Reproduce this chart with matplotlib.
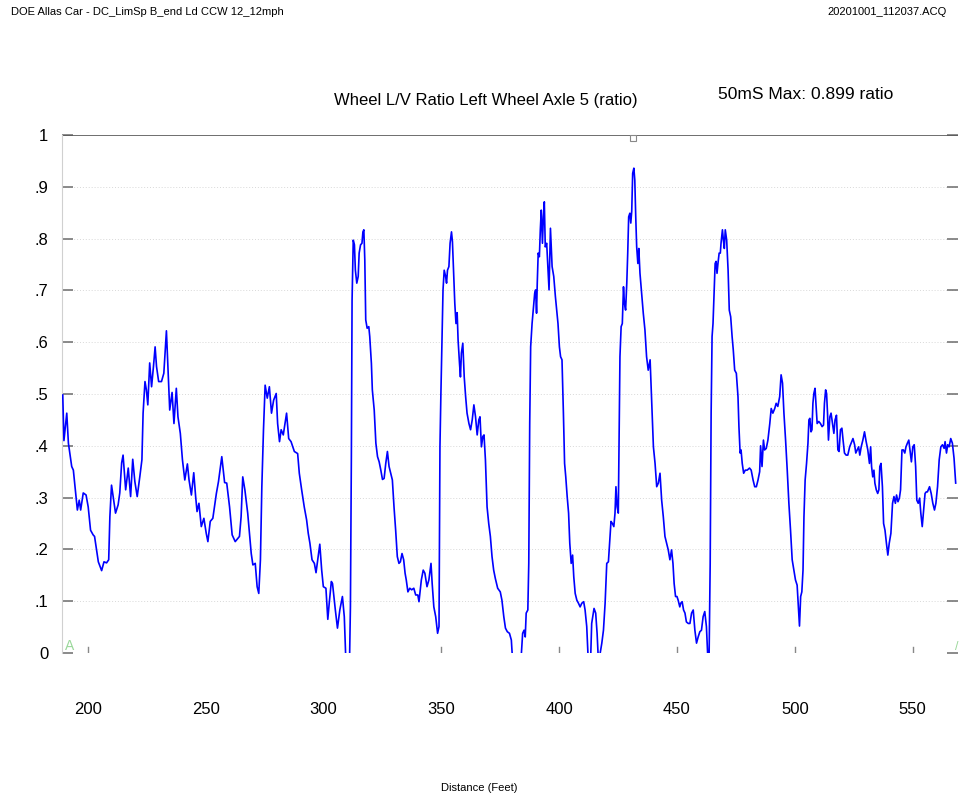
import matplotlib.pyplot as plt

plt.rcParams['font.family'] = ['Liberation Sans', 'DejaVu Sans']

# distance along track (ft) and L/V ratio, left wheel axle 5
distance = [
    189.3, 189.8, 191.0, 191.7, 193.1, 193.8, 195.5, 196.3, 196.9, 198.0,
    199.2, 200.1, 201.1, 202.2, 202.8, 204.4, 205.8, 206.8, 207.9, 208.8,
    209.3, 210.0, 210.7, 211.7, 212.8, 213.5, 214.3, 214.9, 216.0, 217.1,
    218.1, 219.0, 219.9, 220.9, 222.0, 222.9, 223.4, 224.2, 224.8, 225.4,
    226.2, 227.0, 227.8, 228.5, 229.1, 230.0, 231.2, 232.2, 233.3, 234.2,
    234.7, 235.7, 236.5, 237.5, 238.2, 239.2, 240.1, 241.1, 242.2, 242.9,
    243.9, 244.9, 245.7, 246.3, 247.1, 248.1, 249.2, 250.2, 250.9, 251.9,
    253.0, 254.5, 255.4, 256.8, 258.0, 258.9, 260.1, 261.2, 262.5, 264.3,
    265.0, 265.7, 266.6, 267.8, 269.3, 270.0, 271.0, 271.8, 272.5, 273.2,
    273.8, 274.5, 275.2, 276.1, 277.0, 277.9, 278.8, 279.9, 280.5, 281.3,
    282.0, 282.9, 284.3, 285.2, 286.2, 287.6, 289.0, 289.7, 290.7, 291.8,
    292.8, 293.5, 294.2, 295.1, 296.1, 296.8, 297.8, 298.4, 299.2, 299.9,
    301.0, 301.8, 302.4, 303.3, 303.8, 305.0, 305.9, 306.9, 308.0, 308.8,
    309.5, 311.0, 311.4, 311.8, 312.1, 312.6, 313.1, 313.5, 314.1, 314.7,
    315.1, 315.7, 316.3, 316.7, 317.1, 317.5, 317.9, 318.5, 319.2, 319.6,
    320.3, 320.7, 321.5, 322.2, 322.9, 323.6, 324.3, 325.0, 325.7, 326.4,
    327.1, 327.8, 328.5, 329.2, 329.9, 330.6, 331.3, 332.0, 332.6, 333.3,
    334.0, 334.6, 335.1, 335.8, 336.6, 337.4, 338.3, 339.1, 340.0, 340.5,
    341.5, 342.3, 343.0, 343.9, 344.7, 345.6, 346.1, 346.8, 347.6, 348.4,
    349.0, 349.4, 349.8, 350.7, 351.2, 351.8, 352.2, 352.6, 353.2, 353.7,
    354.3, 354.7, 355.3, 355.7, 356.2, 356.7, 357.1, 357.7, 358.1, 358.5,
    359.1, 359.7, 360.3, 360.9, 361.7, 362.4, 363.1, 363.8, 364.5, 365.2,
    365.9, 366.4, 367.0, 367.6, 368.1, 368.7, 369.4, 370.1, 370.8, 371.5,
    372.2, 372.9, 373.9, 375.0, 375.7, 376.5, 377.2, 378.0, 378.9, 379.7,
    380.3, 383.7, 384.5, 385.1, 385.6, 386.0, 386.7, 387.1, 387.5, 387.9,
    388.5, 389.0, 389.6, 390.0, 390.4, 390.7, 391.1, 391.6, 392.0, 392.4,
    392.9, 393.3, 393.7, 394.1, 394.7, 395.7, 396.3, 397.0, 397.7, 398.4,
    399.5, 400.1, 400.6, 401.2, 401.8, 402.3, 402.8, 403.4, 404.0, 404.5,
    405.1, 405.7, 406.2, 406.8, 407.5, 408.2, 408.9, 409.6, 410.4, 411.0,
    411.7, 412.4, 413.3, 413.8, 414.8, 415.5, 416.1, 416.7, 418.1, 418.8,
    419.5, 420.2, 420.9, 421.5, 422.0, 422.6, 423.2, 423.7, 424.1, 424.6,
    425.1, 425.4, 425.8, 426.3, 426.8, 427.3, 427.7, 428.2, 428.7, 429.1,
    429.5, 430.0, 430.4, 430.8, 431.2, 431.7, 432.1, 432.5, 432.9, 433.4,
    433.8, 434.3, 435.0, 435.7, 436.4, 437.1, 437.8, 438.6, 439.2, 440.0,
    440.7, 441.4, 442.1, 442.8, 443.5, 444.2, 444.9, 445.6, 446.3, 447.0,
    447.7, 448.3, 448.8, 449.4, 450.0, 450.5, 451.2, 451.6, 452.2, 452.8,
    453.4, 454.0, 454.8, 455.5, 456.2, 456.9, 457.6, 458.3, 459.0, 459.7,
    460.4, 461.1, 461.8, 462.5, 463.2, 463.6, 464.1, 464.5, 464.9, 465.3,
    465.8, 466.2, 466.6, 467.0, 467.4, 467.9, 468.4, 468.7, 469.3, 469.7,
    470.1, 470.5, 471.1, 471.7, 472.2, 472.8, 473.4, 473.9, 474.5, 475.2,
    475.9, 476.3, 476.8, 477.2, 477.7, 478.3, 479.0, 479.8, 480.8, 481.5,
    482.3, 483.0, 483.7, 484.4, 485.1, 485.5, 486.1, 486.7, 487.2, 487.9,
    488.6, 489.4, 490.0, 490.7, 491.5, 492.1, 492.8, 493.6, 494.2, 494.8,
    495.4, 496.1, 496.8, 497.5, 498.2, 498.9, 499.6, 500.3, 501.0, 501.6,
    502.0, 502.5, 503.0, 503.5, 503.9, 504.4, 505.0, 505.6, 506.0, 506.4,
    506.9, 507.3, 507.7, 508.1, 508.6, 509.0, 509.5, 510.2, 510.9, 511.6,
    512.2, 512.6, 513.1, 513.5, 513.9, 514.3, 514.9, 515.4, 516.0, 516.6,
    517.1, 517.7, 518.3, 518.8, 519.4, 520.0, 520.5, 521.1, 521.8, 522.5,
    523.3, 523.9, 524.7, 525.4, 525.9, 526.5, 527.1, 527.6, 528.2, 528.9,
    529.6, 530.3, 531.0, 531.7, 532.2, 532.6, 533.1, 533.6, 534.0, 534.6,
    535.2, 535.7, 536.1, 536.6, 537.2, 537.7, 538.3, 538.9, 539.5, 540.1,
    540.8, 541.5, 542.1, 542.7, 543.2, 543.8, 544.4, 544.9, 545.5, 546.1,
    546.7, 547.2, 547.8, 548.4, 548.9, 549.5, 550.1, 550.7, 551.3, 551.8,
    552.4, 553.0, 553.5, 554.1, 554.7, 555.3, 555.8, 556.3, 557.2, 557.9,
    558.6, 559.3, 559.9, 560.6, 561.3, 562.0, 562.7, 563.4, 563.8, 564.4,
    564.9, 565.5, 566.2, 566.9, 567.6, 568.3,
]
lv_ratio = [
    .498, .410, .463, .405, .360, .353, .276, .295, .276, .309,
    .305, .282, .237, .228, .225, .176, .159, .176, .174, .180,
    .263, .324, .302, .270, .286, .309, .367, .382, .315, .357,
    .302, .374, .331, .302, .340, .373, .463, .524, .508, .479,
    .560, .514, .553, .591, .553, .524, .524, .540, .622, .521,
    .469, .503, .443, .511, .456, .424, .373, .334, .365, .334,
    .305, .348, .302, .273, .289, .244, .260, .231, .215, .254,
    .260, .308, .331, .379, .329, .328, .282, .228, .215, .225,
    .263, .340, .315, .270, .192, .170, .173, .128, .115, .180,
    .321, .431, .517, .492, .514, .463, .488, .501, .443, .408,
    .431, .421, .463, .414, .408, .389, .385, .347, .315, .282,
    .257, .231, .212, .180, .173, .155, .190, .210, .160, .128,
    .125, .065, .096, .138, .134, .083, .048, .083, .109, .070,
    -.02, -.02, .089, .379, .681, .797, .788, .739, .714, .727,
    .772, .788, .791, .813, .817, .759, .643, .627, .630, .611,
    .559, .508, .469, .405, .379, .369, .353, .335, .337, .366,
    .389, .360, .347, .334, .282, .237, .186, .173, .176, .192,
    .180, .154, .141, .118, .125, .122, .125, .112, .112, .099,
    .141, .160, .154, .128, .141, .173, .134, .089, .070, .038,
    .051, .398, .500, .701, .739, .727, .714, .739, .746, .791,
    .813, .794, .720, .675, .636, .657, .604, .559, .533, .579,
    .598, .533, .495, .463, .443, .431, .450, .479, .456, .421,
    .450, .456, .398, .418, .421, .373, .282, .250, .225, .186,
    .160, .144, .125, .118, .102, .070, .048, .041, .038, .025,
    -.02, -.02, .038, .044, .031, .077, .083, .173, .443, .591,
    .636, .662, .694, .701, .656, .714, .772, .765, .817, .855,
    .791, .842, .871, .784, .791, .701, .820, .746, .727, .688,
    .636, .591, .572, .566, .463, .366, .340, .302, .270, .212,
    .173, .189, .147, .115, .102, .096, .089, .096, .099, .083,
    .051, -.02, -.02, .057, .086, .077, .038, -.02, .019, .044,
    .096, .173, .176, .218, .254, .250, .244, .270, .321, .282,
    .270, .392, .572, .630, .636, .707, .675, .662, .714, .772,
    .842, .849, .830, .853, .926, .936, .913, .842, .784, .752,
    .781, .733, .694, .656, .624, .572, .546, .566, .495, .398,
    .366, .321, .328, .347, .295, .263, .225, .212, .199, .180,
    .199, .173, .134, .109, .109, .102, .089, .096, .099, .083,
    .077, .060, .057, .057, .077, .083, .044, .019, .031, .041,
    .044, .070, .080, .051, -.02, -.02, .173, .463, .611, .636,
    .701, .752, .756, .733, .752, .772, .772, .791, .817, .797,
    .781, .817, .797, .739, .662, .649, .611, .585, .546, .540,
    .495, .437, .386, .392, .366, .347, .353, .353, .357, .353,
    .334, .321, .321, .334, .350, .400, .360, .411, .392, .395,
    .411, .443, .472, .463, .472, .482, .476, .495, .537, .521,
    .463, .411, .353, .289, .237, .180, .160, .141, .131, .083,
    .052, .109, .118, .160, .263, .334, .366, .405, .450, .453,
    .427, .431, .482, .501, .511, .482, .443, .447, .443, .437,
    .440, .482, .508, .501, .463, .411, .456, .463, .443, .424,
    .450, .459, .392, .389, .431, .434, .411, .386, .382, .382,
    .398, .405, .414, .402, .386, .392, .398, .382, .398, .411,
    .427, .408, .392, .366, .398, .360, .340, .353, .328, .315,
    .308, .315, .360, .366, .321, .250, .237, .212, .189, .212,
    .231, .289, .302, .289, .305, .292, .299, .315, .392, .392,
    .386, .398, .405, .411, .392, .369, .398, .402, .360, .295,
    .289, .299, .270, .244, .276, .308, .311, .311, .321, .308,
    .289, .276, .289, .321, .373, .398, .402, .395, .408, .386,
    .402, .398, .414, .405, .376, .328,
]

x_ticks = [200, 250, 300, 350, 400, 450, 500, 550]
y_ticks = [0, .1, .2, .3, .4, .5, .6, .7, .8, .9, 1]
y_tick_labels = ['0', '.1', '.2', '.3', '.4', '.5', '.6', '.7', '.8', '.9', '1']
event_marks = [200, 350, 400, 450, 500, 550]   # short gray marks on the baseline
peak_50ms = 0.899

fig = plt.figure(figsize=(9.59, 7.97), dpi=100)
ax = fig.add_axes([0.0647, 0.1807, 0.9343, 0.6499])

ax.plot(distance, lv_ratio, color='#0000ff', lw=1.2, zorder=3)

ax.set_xlim(189.0, 569.3)
ax.set_ylim(0, 1)

# dotted grid, heavy line at 1.0
for yv in y_ticks[1:-1]:
    ax.axhline(yv, color='#d8d8d8', lw=0.7, ls=(0, (1, 2)), zorder=1)
ax.axhline(1.0, color='#555555', lw=1.2, zorder=2)

for s in ['top', 'bottom', 'right']:
    ax.spines[s].set_visible(False)
ax.spines['left'].set_color('#d0d0d0')
ax.spines['left'].set_linewidth(0.8)

ax.set_yticks(y_ticks)
ax.set_yticklabels(y_tick_labels, fontsize=12)
ax.tick_params(axis='y', direction='in', length=8, width=1.2, color='#777777',
               pad=10, right=True)
ax.set_xticks(x_ticks)
ax.set_xticklabels([str(v) for v in x_ticks], fontsize=12)
ax.tick_params(axis='x', length=0, pad=35)

# short marks on the zero line
for xm in event_marks:
    ax.plot([xm, xm], [0.0, 0.011], color='#888888', lw=1.0, zorder=2)

# flags at both ends of the baseline
ax.text(192.4, 0.0, 'A', color='#9ad89a', fontsize=10, ha='center', va='bottom',
        zorder=2)
ax.text(568.9, 0.0, '/', color='#9ad89a', fontsize=9, ha='center', va='bottom',
        zorder=2)

# max-location flag at the top line
ax.plot([431.2], [0.994], marker='s', ms=4, mfc='white', mec='#888888',
        mew=0.8, zorder=4, clip_on=False)

fig.text(0.5068, 0.874, 'Wheel L/V Ratio Left Wheel Axle 5 (ratio)',
         fontsize=12, ha='center', va='center')
fig.text(0.7487, 0.882, f'50mS Max: {peak_50ms:.3f} ratio',
         fontsize=12.5, ha='left', va='center')
fig.text(0.0115, 0.985, 'DOE Allas Car - DC_LimSp B_end Ld CCW 12_12mph',
         fontsize=8, ha='left', va='center')
fig.text(0.9875, 0.985, '20201001_112037.ACQ', fontsize=8, ha='right',
         va='center')
fig.text(0.5, 0.011, 'Distance (Feet)', fontsize=8, ha='center', va='center')

fig.savefig('out.png', dpi=100)
